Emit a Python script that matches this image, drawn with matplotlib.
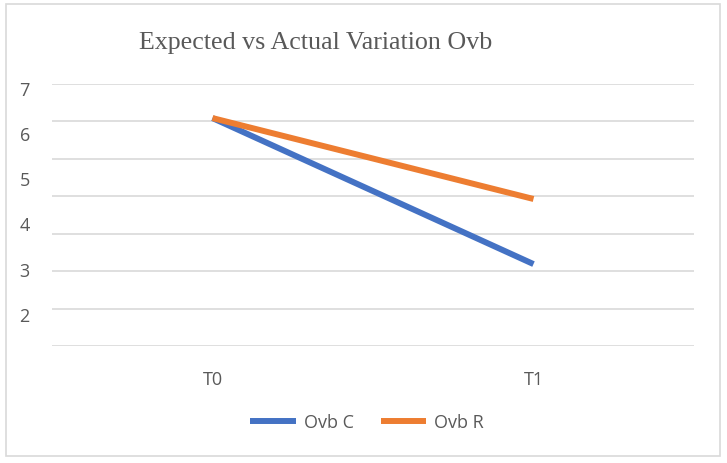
import numpy as np
import matplotlib
matplotlib.use("Agg")
import matplotlib.pyplot as plt
from matplotlib.patches import Rectangle

# data
categories = ["T0", "T1"]
ovb_c = [6.33, 3.10]
ovb_r = [6.33, 4.54]
y_ticks = [2, 3, 4, 5, 6, 7]

W, H = 727, 464
fig = plt.figure(figsize=(W / 100, H / 100), dpi=100)

def px(x0, y0, x1, y1):
    # pixel box -> figure fraction [left, bottom, width, height]
    return [x0 / W, 1 - y1 / H, (x1 - x0) / W, (y1 - y0) / H]

# outer frame of the chart area
fig.patches.append(Rectangle((6 / W, 1 - 457 / H), 714 / W, 452 / H,
                             transform=fig.transFigure, fill=False,
                             edgecolor="#d9d9d9", lw=1.2))

ax = fig.add_axes(px(52, 85, 694, 347.3))
ylo, yhi = 1.281, 7.084
ax.set_ylim(ylo, yhi)
ax.set_xlim(-0.5, 1.5)

# gridlines (evenly spaced, independent of the labels)
for g in np.linspace(ylo, yhi, 8):
    ax.axhline(g, color="#d9d9d9", lw=1.2, zorder=1)

x = np.arange(len(categories))
ax.plot(x, ovb_c, color="#4472C4", lw=4.3, solid_capstyle="butt", label="Ovb C", zorder=3)
ax.plot(x, ovb_r, color="#ED7D31", lw=4.3, solid_capstyle="butt", label="Ovb R", zorder=3)

for s in ax.spines.values():
    s.set_visible(False)

tick_font = dict(family="Open Sans", size=13)
ax.set_yticks(y_ticks)
ax.set_yticklabels([str(v) for v in y_ticks], color="#595959", **tick_font)
ax.set_xticks(x)
ax.set_xticklabels(categories, color="#595959", **tick_font)
ax.tick_params(axis="y", length=0, pad=16)
ax.tick_params(axis="x", length=0, pad=17)

fig.text(316 / W, 1 - 43 / H, "Expected vs Actual Variation Ovb", ha="center", va="center",
         family="Liberation Serif", size=18.7, color="#595959")

fig.legend(loc="center", bbox_to_anchor=(0.505, 1 - 423 / H), ncol=2, frameon=False,
           prop=dict(family="Open Sans", size=13), labelcolor="#595959",
           handlelength=2.5, columnspacing=1.5, handletextpad=0.45)

fig.savefig("out.png", dpi=100)
